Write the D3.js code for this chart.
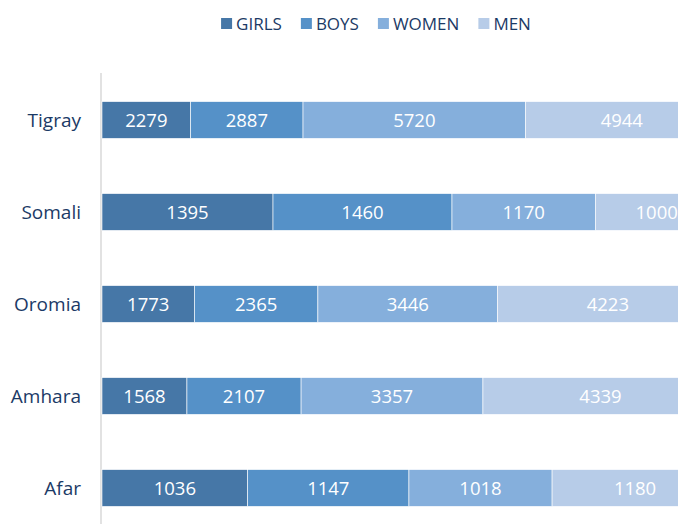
<!DOCTYPE html>
<html>
<head>
<meta charset="utf-8">
<script src="https://cdn.jsdelivr.net/npm/d3@7"></script>
<style>
  html, body { margin: 0; padding: 0; background: #fff; overflow: hidden; }
  svg { display: block; font-family: "Open Sans", sans-serif; }
</style>
</head>
<body>
<svg id="chart" width="678" height="524"></svg>
<script>
const regions = ["Tigray", "Somali", "Oromia", "Amhara", "Afar"];
const groups = ["GIRLS", "BOYS", "WOMEN", "MEN"];
const girls = [2279, 1395, 1773, 1568, 1036];
const boys = [2887, 1460, 2365, 2107, 1147];
const women = [5720, 1170, 3446, 3357, 1018];
const men = [4944, 1000, 4223, 4339, 1180];

const COLORS = ["#4677a7", "#5591c8", "#85afdc", "#b7cce8"];
const TEXT_COLOR = "#1b3a66";

const svg = d3.select("#chart");

const rows = regions.map((r, i) => ({
  region: r, GIRLS: girls[i], BOYS: boys[i], WOMEN: women[i], MEN: men[i]
}));

const series = d3.stack()
  .keys(groups)
  .offset(d3.stackOffsetExpand)(rows);

// plot area runs past the right and bottom edge of the picture
const x = d3.scaleLinear().domain([0, 1]).range([102, 718]);
const y = d3.scaleBand()
  .domain(regions)
  .range([74, 534])
  .paddingInner(0.6)
  .paddingOuter(0.3);

const color = d3.scaleOrdinal().domain(groups).range(COLORS);

// vertical axis line
svg.append("line")
  .attr("x1", 101).attr("x2", 101)
  .attr("y1", 73).attr("y2", 524)
  .attr("stroke", "#d9d9d9")
  .attr("stroke-width", 1.5);

const layer = svg.selectAll("g.layer")
  .data(series)
  .enter()
  .append("g")
  .attr("class", "layer")
  .attr("fill", d => color(d.key));

layer.selectAll("rect")
  .data(d => d)
  .enter()
  .append("rect")
  .attr("x", d => x(d[0]))
  .attr("y", d => y(d.data.region))
  .attr("width", d => x(d[1]) - x(d[0]))
  .attr("height", y.bandwidth())
  .attr("stroke", "#fff")
  .attr("stroke-width", 0.6);

layer.each(function(s) {
  d3.select(this).selectAll("text")
    .data(s)
    .enter()
    .append("text")
    .attr("x", d => (x(d[0]) + x(d[1])) / 2)
    .attr("y", d => y(d.data.region) + y.bandwidth() / 2)
    .attr("dy", "0.36em")
    .attr("text-anchor", "middle")
    .attr("fill", "#fff")
    .style("font-size", "18.5px")
    .text(d => d.data[s.key]);
});

// category labels
svg.selectAll("text.cat")
  .data(regions)
  .enter()
  .append("text")
  .attr("class", "cat")
  .attr("x", 81)
  .attr("y", d => y(d) + y.bandwidth() / 2)
  .attr("dy", "0.36em")
  .attr("text-anchor", "end")
  .attr("fill", TEXT_COLOR)
  .style("font-size", "19px")
  .text(d => d);

// legend, centred over the (wider) plot
const legend = svg.append("g");
const items = legend.selectAll("g")
  .data(groups)
  .enter()
  .append("g");

items.append("rect")
  .attr("y", 18)
  .attr("width", 11)
  .attr("height", 11)
  .attr("fill", d => color(d));

items.append("text")
  .attr("x", 15)
  .attr("y", 29.5)
  .attr("fill", TEXT_COLOR)
  .style("font-size", "17px")
  .text(d => d);

let widths = [];
items.select("text").each(function() { widths.push(this.getComputedTextLength()); });
let total = d3.sum(widths, w => 15 + w) + 19 * (widths.length - 1);
let pos = 376 - total / 2;
items.attr("transform", (d, i) => {
  const t = `translate(${pos},0)`;
  pos += 15 + widths[i] + 19;
  return t;
});
</script>
</body>
</html>
